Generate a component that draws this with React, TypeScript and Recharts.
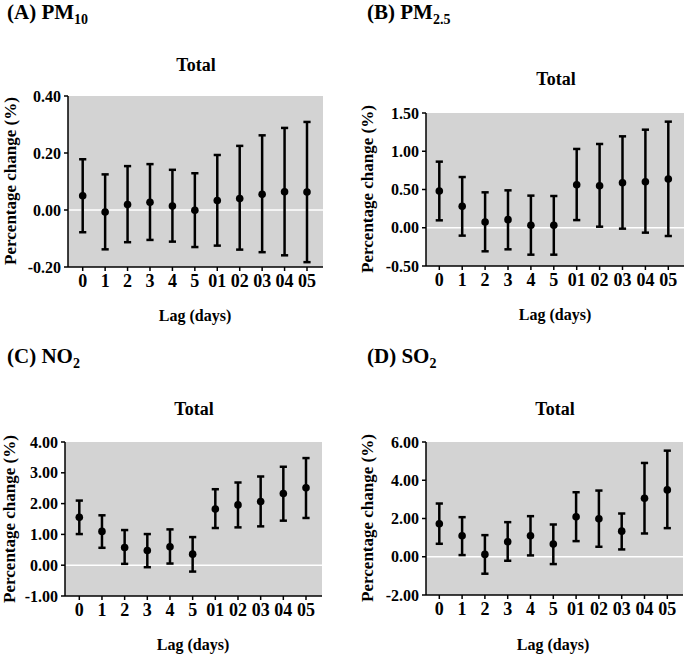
import React from 'react';
import { ComposedChart, Line, ErrorBar, XAxis, YAxis, CartesianGrid, ReferenceLine } from 'recharts';

const lags = ['0', '1', '2', '3', '4', '5', '01', '02', '03', '04', '05'];

// (A) PM10
const pm10Est = [0.05, -0.007, 0.019, 0.027, 0.014, -0.001, 0.033, 0.04, 0.055, 0.064, 0.063];
const pm10Low = [-0.078, -0.138, -0.113, -0.105, -0.111, -0.13, -0.125, -0.139, -0.148, -0.159, -0.183];
const pm10High = [0.178, 0.125, 0.154, 0.161, 0.141, 0.129, 0.193, 0.225, 0.262, 0.288, 0.309];

// (B) PM2.5
const pm25Est = [0.48, 0.28, 0.075, 0.106, 0.032, 0.032, 0.563, 0.55, 0.589, 0.602, 0.637];
const pm25Low = [0.097, -0.103, -0.308, -0.282, -0.352, -0.352, 0.1, 0.014, -0.012, -0.064, -0.108];
const pm25High = [0.864, 0.663, 0.463, 0.489, 0.42, 0.415, 1.03, 1.095, 1.195, 1.282, 1.387];

// (C) NO2
const no2Est = [1.554, 1.098, 0.576, 0.478, 0.598, 0.359, 1.826, 1.957, 2.065, 2.326, 2.511];
const no2Low = [1.011, 0.565, 0.043, -0.065, 0.054, -0.207, 1.207, 1.228, 1.261, 1.446, 1.533];
const no2High = [2.098, 1.62, 1.141, 1.011, 1.163, 0.913, 2.467, 2.685, 2.88, 3.196, 3.478];

// (D) SO2
const so2Est = [1.722, 1.096, 0.122, 0.783, 1.096, 0.661, 2.087, 1.983, 1.339, 3.061, 3.496];
const so2Low = [0.678, 0.087, -0.887, -0.209, 0.07, -0.383, 0.817, 0.522, 0.383, 1.217, 1.496];
const so2High = [2.783, 2.07, 1.13, 1.809, 2.122, 1.687, 3.374, 3.461, 2.261, 4.904, 5.548];

const pm10Ticks = [-0.2, 0, 0.2, 0.4];
const pm25Ticks = [-0.5, 0, 0.5, 1, 1.5];
const no2Ticks = [-1, 0, 1, 2, 3, 4];
const so2Ticks = [-2, 0, 2, 4, 6];

const FONT = 'Liberation Serif';

const buildRows = (est: number[], low: number[], high: number[]) =>
  lags.map((lag, i) => ({ lag, est: est[i], err: [est[i] - low[i], high[i] - est[i]] }));

interface PanelProps {
  est: number[];
  low: number[];
  high: number[];
  ticks: number[];
  left: number;
  top: number;
  width: number;
  height: number;
  yWidth: number;
  margin: { top: number; right: number; bottom: number; left: number };
  padL: number;
  padR: number;
}

const Panel = ({ est, low, high, ticks, left, top, width, height, yWidth, margin, padL, padR }: PanelProps) => {
  const data = buildRows(est, low, high);
  return (
    <div style={{ position: 'absolute', left, top }}>
      <ComposedChart width={width} height={height} data={data} margin={margin} style={{ fontFamily: FONT }}>
        <CartesianGrid fill="#d3d3d3" fillOpacity={1} horizontal={false} vertical={false} />
        <ReferenceLine y={0} stroke="#ffffff" strokeWidth={1.5} />
        <XAxis
          dataKey="lag"
          type="category"
          padding={{ left: padL, right: padR }}
          axisLine={{ stroke: '#000', strokeWidth: 1.5 }}
          tickLine={{ stroke: '#000', strokeWidth: 1.5 }}
          tickSize={4}
          tickMargin={3}
          interval={0}
          tick={{ fontSize: 18, fontWeight: 'bold', fill: '#000', fontFamily: FONT }}
        />
        <YAxis
          width={yWidth}
          type="number"
          domain={[ticks[0], ticks[ticks.length - 1]]}
          ticks={ticks}
          interval={0}
          tickFormatter={(v: number) => v.toFixed(2)}
          axisLine={{ stroke: '#000', strokeWidth: 1.5 }}
          tickLine={{ stroke: '#000', strokeWidth: 1.5 }}
          tickSize={4}
          tickMargin={3}
          tick={{ fontSize: 16, fontWeight: 'bold', fill: '#000', fontFamily: FONT }}
        />
        <Line
          dataKey="est"
          stroke="none"
          dot={{ r: 3.8, fill: '#000', stroke: '#000', strokeWidth: 0 }}
          activeDot={false}
          isAnimationActive={false}
        >
          <ErrorBar dataKey="err" direction="y" width={3.6} stroke="#000" strokeWidth={2.5} />
        </Line>
      </ComposedChart>
    </div>
  );
};

const textStyle = { fontFamily: FONT, fontWeight: 'bold' as const, fill: '#000' };

export default function App() {
  return (
    <div style={{ position: 'absolute', left: 0, top: 0, width: 685, height: 654, background: '#fff', fontFamily: FONT }}>
      <Panel est={pm10Est} low={pm10Low} high={pm10High} ticks={pm10Ticks}
        left={0} top={0} width={340} height={330} yWidth={68}
        margin={{ top: 96, right: 17, bottom: 33, left: 0 }} padL={14.7} padR={16} />
      <Panel est={pm25Est} low={pm25Low} high={pm25High} ticks={pm25Ticks}
        left={340} top={0} width={345} height={330} yWidth={86}
        margin={{ top: 113, right: 1, bottom: 34, left: 0 }} padL={13.3} padR={15.7} />
      <Panel est={no2Est} low={no2Low} high={no2High} ticks={no2Ticks}
        left={0} top={330} width={340} height={324} yWidth={65}
        margin={{ top: 112, right: 18, bottom: 28, left: 0 }} padL={14.3} padR={16} />
      <Panel est={so2Est} low={so2Low} high={so2High} ticks={so2Ticks}
        left={340} top={330} width={345} height={324} yWidth={86}
        margin={{ top: 112, right: 2, bottom: 29, left: 0 }} padL={13.3} padR={15.7} />

      <svg width={685} height={654} style={{ position: 'absolute', left: 0, top: 0, pointerEvents: 'none' }}>
        <text x={7} y={19} fontSize={21} {...textStyle}>
          (A) PM<tspan fontSize={14} dy={5}>10</tspan>
        </text>
        <text x={367} y={19} fontSize={21} {...textStyle}>
          (B) PM<tspan fontSize={14} dy={5}>2.5</tspan>
        </text>
        <text x={7} y={363} fontSize={21} {...textStyle}>
          (C) NO<tspan fontSize={14} dy={5}>2</tspan>
        </text>
        <text x={367} y={363} fontSize={21} {...textStyle}>
          (D) SO<tspan fontSize={14} dy={5}>2</tspan>
        </text>

        <text x={196} y={71} fontSize={18} textAnchor="middle" {...textStyle}>Total</text>
        <text x={556} y={85} fontSize={18} textAnchor="middle" {...textStyle}>Total</text>
        <text x={194} y={415} fontSize={18} textAnchor="middle" {...textStyle}>Total</text>
        <text x={555} y={415} fontSize={18} textAnchor="middle" {...textStyle}>Total</text>

        <text x={195} y={321} fontSize={16} textAnchor="middle" {...textStyle}>Lag (days)</text>
        <text x={555} y={320} fontSize={16} textAnchor="middle" {...textStyle}>Lag (days)</text>
        <text x={193} y={650} fontSize={16} textAnchor="middle" {...textStyle}>Lag (days)</text>
        <text x={553} y={650} fontSize={16} textAnchor="middle" {...textStyle}>Lag (days)</text>

        <text transform="translate(16,181) rotate(-90)" fontSize={17} textAnchor="middle" {...textStyle}>Percentage change (%)</text>
        <text transform="translate(373,189) rotate(-90)" fontSize={17} textAnchor="middle" {...textStyle}>Percentage change (%)</text>
        <text transform="translate(15,519) rotate(-90)" fontSize={17} textAnchor="middle" {...textStyle}>Percentage change (%)</text>
        <text transform="translate(373,518) rotate(-90)" fontSize={17} textAnchor="middle" {...textStyle}>Percentage change (%)</text>
      </svg>
    </div>
  );
}
